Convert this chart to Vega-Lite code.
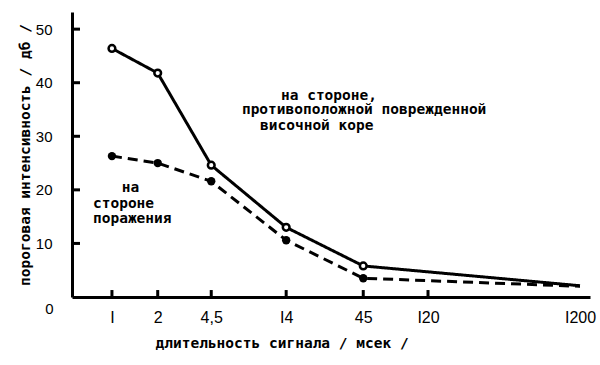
{
  "$schema": "https://vega.github.io/schema/vega-lite/v6.json",
  "width": 518,
  "height": 285,
  "autosize": {"type": "none"},
  "padding": {"left": 72, "top": 12, "right": 10, "bottom": 68},
  "background": "white",
  "config": {
    "view": {"stroke": null},
    "axis": {
      "grid": false,
      "domainColor": "black",
      "domainWidth": 3,
      "ticks": false,
      "labelColor": "black",
      "titleColor": "black"
    }
  },
  "datasets": {
    "series": [
      {"duration": 1, "threshold": 46.4, "side": "contra"},
      {"duration": 2, "threshold": 41.8, "side": "contra"},
      {"duration": 4.5, "threshold": 24.6, "side": "contra"},
      {"duration": 14, "threshold": 13.0, "side": "contra"},
      {"duration": 45, "threshold": 5.8, "side": "contra"},
      {"duration": 1200, "threshold": 2.1, "side": "contra"},
      {"duration": 1, "threshold": 26.3, "side": "lesion"},
      {"duration": 2, "threshold": 25.0, "side": "lesion"},
      {"duration": 4.5, "threshold": 21.6, "side": "lesion"},
      {"duration": 14, "threshold": 10.6, "side": "lesion"},
      {"duration": 45, "threshold": 3.5, "side": "lesion"},
      {"duration": 1200, "threshold": 2.0, "side": "lesion"}
    ],
    "notes": [
      {"duration": 12.94, "threshold": 37.6, "label": "на стороне,"},
      {"duration": 7.16, "threshold": 34.9, "label": "противоположной поврежденной"},
      {"duration": 9.42, "threshold": 31.9, "label": "височной коре"},
      {"duration": 1.16, "threshold": 20.3, "label": "на"},
      {"duration": 0.75, "threshold": 17.35, "label": "стороне"},
      {"duration": 0.75, "threshold": 14.55, "label": "поражения"}
    ],
    "xticks": [
      {"duration": 1, "base": 0, "top": 1.3}, {"duration": 2, "base": 0, "top": 1.3}, {"duration": 4.5, "base": 0, "top": 1.3}, {"duration": 14, "base": 0, "top": 1.3},
      {"duration": 45, "base": 0, "top": 1.3}, {"duration": 120, "base": 0, "top": 1.3}
    ],
    "yticks": [
      {"threshold": 10, "left": 0.546}, {"threshold": 20, "left": 0.546}, {"threshold": 30, "left": 0.546}, {"threshold": 40, "left": 0.546}, {"threshold": 50, "left": 0.546}
    ]
  },
  "layer": [
    {
      "data": {"name": "xticks"},
      "mark": {"type": "rule", "color": "black", "strokeWidth": 3},
      "encoding": {
        "x": {"field": "duration", "type": "quantitative", "scale": {"type": "log", "domain": [0.546, 1396], "nice": false},
          "axis": {
            "values": [1, 2, 4.5, 14, 45, 120, 1200],
            "labelExpr": "datum.value == 1 ? 'I' : datum.value == 2 ? '2' : datum.value == 4.5 ? '4,5' : datum.value == 14 ? 'I4' : datum.value == 45 ? '45' : datum.value == 120 ? 'I20' : 'I200'",
            "labelPadding": 12,
            "labelFont": "Liberation Sans",
            "labelFontSize": 16,
            "labelBaseline": "top",
            "labelFlush": false,
            "labelOverlap": false,
            "title": "длительность сигнала  / мсек /",
            "titleFont": "DejaVu Sans Mono",
            "titleFontWeight": "bold",
            "titleFontSize": 14.5,
            "titleAnchor": null,
            "titleAlign": "left",
            "titleBaseline": "middle",
            "titleX": 83,
            "titleY": 46
          }
        },
        "y": {"field": "base", "type": "quantitative", "scale": {"domain": [0, 53.2], "nice": false, "zero": true},
          "axis": {
            "values": [0, 10, 20, 30, 40, 50],
            "labelPadding": {"condition": {"test": "datum.value === 0", "value": 19}, "value": 20},
            "labelOffset": {"condition": {"test": "datum.value === 0", "value": 11}, "value": 0},
            "labelFont": "Liberation Sans",
            "labelFontSize": 15,
            "labelFlush": false,
            "labelOverlap": false,
            "title": "пороговая интенсивность / дб /",
            "titleFont": "DejaVu Sans Mono",
            "titleFontWeight": "bold",
            "titleFontSize": 14.5,
            "titleAngle": -90,
            "titleBaseline": "middle",
            "titleX": -47
          }
        },
        "y2": {"field": "top"}
      }
    },
    {
      "data": {"name": "yticks"},
      "mark": {"type": "tick", "orient": "horizontal", "color": "black", "thickness": 3, "size": 8, "xOffset": 4, "opacity": 1},
      "encoding": {
        "x": {"field": "left", "type": "quantitative"},
        "y": {"field": "threshold", "type": "quantitative"}
      }
    },
    {
      "data": {"name": "series"},
      "mark": {"type": "line", "color": "black", "strokeWidth": 3},
      "encoding": {
        "x": {"field": "duration", "type": "quantitative"},
        "y": {"field": "threshold", "type": "quantitative"},
        "detail": {"field": "side"},
        "strokeDash": {
          "field": "side",
          "type": "nominal",
          "scale": {"domain": ["contra", "lesion"], "range": [[1, 0], [10, 6]]},
          "legend": null
        }
      }
    },
    {
      "data": {"name": "series"},
      "transform": [{"filter": "datum.side == 'contra' && datum.duration < 1200"}],
      "mark": {"type": "point", "shape": "circle", "filled": true, "fill": "white", "stroke": "black", "strokeWidth": 2.5, "size": 45, "opacity": 1},
      "encoding": {
        "x": {"field": "duration", "type": "quantitative"},
        "y": {"field": "threshold", "type": "quantitative"}
      }
    },
    {
      "data": {"name": "series"},
      "transform": [{"filter": "datum.side == 'lesion' && datum.duration < 1200"}],
      "mark": {"type": "point", "shape": "circle", "filled": true, "color": "black", "size": 70, "opacity": 1},
      "encoding": {
        "x": {"field": "duration", "type": "quantitative"},
        "y": {"field": "threshold", "type": "quantitative"}
      }
    },
    {
      "data": {"name": "notes"},
      "mark": {"type": "text", "align": "left", "baseline": "middle", "font": "DejaVu Sans Mono", "fontWeight": "bold", "fontSize": 14.5, "color": "black"},
      "encoding": {
        "x": {"field": "duration", "type": "quantitative"},
        "y": {"field": "threshold", "type": "quantitative"},
        "text": {"field": "label"}
      }
    }
  ]
}
